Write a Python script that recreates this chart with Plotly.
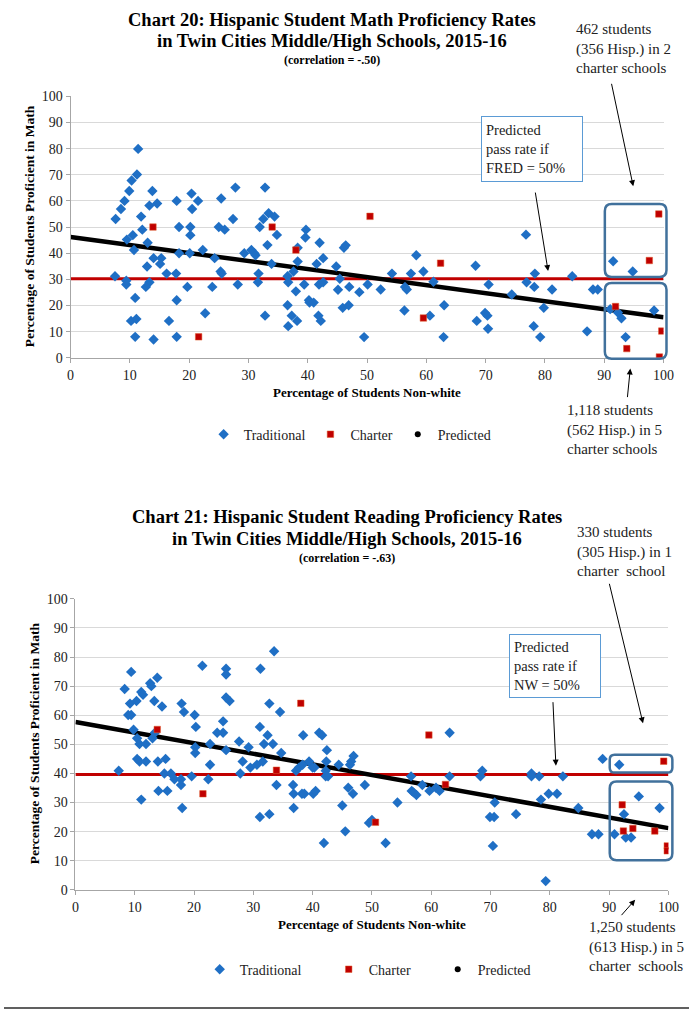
import plotly.graph_objects as go

# ---------------- Data: Chart 20 (Math) ----------------
math_trad_x = [7.6, 8.5, 9.1, 9.9, 10.3, 11.2, 11.4, 11.9, 12.1, 10.5, 9.5, 10.7, 7.5, 9.4, 9.4, 10.9, 10.2, 11.1, 10.9,
               13.3, 13.8, 14.6, 13.0, 14.0, 15.3, 15.1, 12.9, 13.3, 12.7, 14.0,
               16.2, 16.6, 17.9, 18.3, 17.8, 17.9, 17.9, 18.3, 19.7, 20.4, 20.5, 20.2, 20.2, 21.5, 20.1, 22.3, 22.7,
               23.9, 24.3, 25.0, 25.4, 26.0, 25.3, 25.5, 27.4, 27.8, 28.2, 29.3, 30.5, 31.0, 31.2, 31.7, 31.6, 31.9,
               32.5, 32.8, 32.8, 33.2, 33.4, 34.4, 34.8, 33.9, 36.6, 36.7, 36.6, 37.3, 36.7, 38.2, 38.0, 37.6, 38.3,
               38.3, 39.4, 39.7, 39.6, 40.2, 40.3, 41.0, 41.8, 42.2, 41.5, 42.0, 42.6, 41.9, 42.6, 44.8, 45.1, 45.4,
               45.9, 46.9, 47.0, 46.1, 46.4,
               48.7, 50.1, 49.5, 52.3, 54.2, 56.4, 56.7, 56.3, 57.4, 58.3, 59.5, 61.2, 60.6, 63.0, 62.9, 68.3, 70.5,
               68.5, 69.9, 70.3, 70.4, 74.4, 76.8, 76.9, 78.2, 78.3, 78.1, 79.2, 81.2, 79.8, 84.6, 87.1, 88.1, 88.9,
               91.5, 94.8, 91.0, 92.3, 92.9, 93.6, 98.4]
math_trad_y = [53.1, 56.9, 60.0, 63.8, 67.8, 70.1, 79.9, 54.0, 49.0, 46.9, 45.2, 41.2, 31.2, 28.0, 29.5, 22.9, 14.1, 14.8, 8.0,
               58.2, 63.8, 59.0, 44.0, 38.1, 38.1, 35.9, 34.9, 28.9, 27.1, 7.0,
               32.2, 14.1, 60.0, 50.0, 32.2, 22.0, 8.0, 40.0, 27.1, 62.8, 56.9, 50.0, 46.9, 60.0, 40.0, 41.2, 17.0,
               27.1, 38.1, 50.0, 60.9, 49.0, 33.0, 32.2, 53.1, 65.1, 28.0, 40.0, 41.2, 40.0, 39.2, 32.2, 28.9, 50.0,
               53.1, 65.1, 16.1, 43.1, 55.3, 54.0, 47.0, 35.9, 31.2, 28.9, 20.1, 16.1, 12.1, 14.1, 25.4, 33.0, 36.8,
               42.1, 28.0, 49.0, 46.0, 22.0, 21.1, 21.1, 16.1, 14.1, 35.9, 44.0, 38.1, 28.0, 28.9, 34.9, 26.0, 30.2,
               19.1, 20.1, 27.1, 42.1, 43.0,
               25.1, 28.0, 7.9, 26.1, 32.2, 27.1, 26.1, 18.1, 32.2, 39.2, 33.0, 29.1, 16.1, 20.1, 7.9, 35.2, 28.0,
               14.1, 17.1, 16.1, 11.1, 24.2, 47.1, 28.9, 27.1, 32.2, 12.1, 7.9, 26.1, 19.1, 31.2, 10.1, 26.1, 26.1,
               36.9, 33.0, 18.6, 17.3, 15.1, 7.9, 18.1]
math_charter_x = [13.9, 21.6, 34.0, 38.0, 50.5, 59.5, 62.4, 91.9, 93.8, 97.6, 99.2, 99.3, 99.7]
math_charter_y = [50.0, 8.0, 50.0, 41.2, 54.1, 15.2, 36.2, 19.6, 3.5, 37.2, 55.0, 0.3, 10.2]
math_pred_x = [0, 100]
math_pred_y = [46.2, 15.5]
math_pass_x = [0, 100]
math_pass_y = [30.2, 30.2]

# ---------------- Data: Chart 21 (Reading) ----------------
read_trad_x = [7.3, 8.3, 9.4, 9.2, 8.9, 9.4, 9.8, 10.3, 10.4, 11.1, 11.4, 10.8, 11.9, 10.4, 10.8, 11.9, 11.1, 12.6, 12.8,
               13.3, 13.8, 14.6, 13.0, 13.4, 13.9, 14.0, 15.2, 15.0, 16.1, 15.5, 16.7, 17.8, 17.8, 18.0, 17.9, 18.3,
               19.6, 20.1, 20.3, 20.2, 20.2, 21.4, 22.4, 22.7, 22.7, 23.9, 24.9, 24.9, 25.4, 25.4, 25.4, 26.0, 25.4,
               27.6, 27.8, 28.2, 29.2, 29.5, 30.6, 31.1, 31.2, 31.1, 31.6, 31.8, 32.4, 32.7, 32.7, 33.3, 33.5, 33.9,
               34.5, 34.7, 36.7, 36.8, 36.8, 37.2, 37.7, 38.2, 38.6, 38.4, 38.3, 39.4, 40.0, 40.3, 40.1, 40.5, 41.1,
               41.6, 41.9, 42.4, 42.3, 42.2, 42.2, 42.6, 44.4, 45.0, 45.5, 46.0, 46.8, 46.9, 46.5, 46.3,
               48.8, 49.5, 50.0, 52.3, 54.3, 56.6, 56.7, 57.0, 57.5, 58.5, 59.7, 60.8, 61.4, 63.1, 63.1, 68.3, 68.6,
               69.9, 70.6, 70.7, 70.4, 74.3, 76.9, 76.9, 78.2, 78.5, 79.8, 81.2, 82.2, 84.8, 87.1, 88.2, 88.9, 90.9,
               91.7, 92.5, 92.8, 93.7, 95.0, 98.5, 79.3]
read_trad_y = [40.9, 69.0, 74.9, 64.0, 60.1, 60.1, 55.0, 64.9, 52.1, 68.0, 67.0, 50.1, 50.1, 45.0, 44.1, 44.1, 31.0, 71.0, 70.0,
               64.9, 72.9, 63.0, 52.1, 54.0, 44.1, 34.0, 45.0, 40.0, 40.0, 34.0, 38.0, 38.0, 36.0, 28.1, 64.0, 61.1,
               39.0, 60.1, 56.0, 49.0, 47.0, 77.0, 38.0, 43.0, 50.1, 54.0, 54.0, 57.9, 76.0, 74.0, 66.1, 64.9, 48.0,
               51.0, 40.0, 44.1, 49.0, 42.0, 43.0, 56.0, 76.0, 25.0, 44.1, 50.1, 53.1, 64.0, 26.0, 50.1, 82.0, 36.0,
               61.1, 47.0, 36.0, 33.0, 28.1, 40.9, 42.0, 33.0, 33.0, 53.1, 43.0, 44.1, 42.0, 42.0, 33.0, 34.0, 54.0,
               53.1, 16.1, 48.0, 44.1, 40.9, 39.0, 39.0, 43.0, 29.0, 20.1, 35.1, 33.0, 46.0, 44.1, 43.0,
               36.0, 23.0, 24.0, 16.1, 30.0, 39.0, 34.0, 33.5, 32.6, 36.0, 34.0, 35.1, 34.0, 54.0, 39.0, 39.0, 40.9,
               25.0, 25.0, 30.0, 15.1, 26.0, 40.0, 39.0, 39.0, 31.0, 33.0, 33.0, 39.0, 28.1, 19.1, 19.1, 45.0, 19.1,
               43.0, 26.0, 18.0, 18.0, 32.1, 28.1, 3.0]
read_charter_x = [13.8, 21.5, 33.9, 38.0, 50.6, 59.6, 62.4, 92.2, 92.4, 94.0, 97.7, 99.2, 99.8, 99.8]
read_charter_y = [55.1, 33.0, 41.1, 64.1, 23.2, 53.2, 36.2, 29.2, 20.2, 21.1, 20.2, 44.2, 15.1, 13.4]
read_pred_x = [0, 100]
read_pred_y = [57.7, 21.2]
read_pass_x = [0, 100]
read_pass_y = [39.6, 39.6]

tick_vals = list(range(0, 101, 10))

# ---------------- Styling ----------------
W, H = 700, 1019
SERIF = "Liberation Serif, Times New Roman, serif"
BLUE = "#1F6FC5"
RED = "#C00000"
BOX = "#41719C"
TXT = "#222222"


def px(x):
    return x / W


def py(y):
    return 1 - y / H


fig = go.Figure()


def add_chart(xa, ya, legend, tx, ty, cx, cy, predx, predy, passx, passy, lw=(None, None)):
    fig.add_trace(go.Scatter(x=passx, y=passy, mode="lines", line=dict(color=RED, width=3),
                             xaxis=xa, yaxis=ya, showlegend=False, hoverinfo="skip"))
    fig.add_trace(go.Scatter(x=predx, y=predy, mode="lines", line=dict(color="black", width=4.5),
                             xaxis=xa, yaxis=ya, showlegend=False, hoverinfo="skip"))
    fig.add_trace(go.Scatter(x=tx, y=ty, mode="markers", name="Traditional",
                             marker=dict(symbol="diamond", size=8, color=BLUE),
                             xaxis=xa, yaxis=ya, legend=legend, legendwidth=lw[0]))
    fig.add_trace(go.Scatter(x=cx, y=cy, mode="markers", name="Charter",
                             marker=dict(symbol="square", size=6.5, color=RED,
                                         line=dict(color="#E06030", width=0.5)),
                             xaxis=xa, yaxis=ya, legend=legend, legendwidth=lw[1]))
    fig.add_trace(go.Scatter(x=[None], y=[None], mode="markers", name="Predicted",
                             marker=dict(symbol="circle", size=6, color="black"),
                             xaxis=xa, yaxis=ya, legend=legend))


add_chart("x", "y", "legend", math_trad_x, math_trad_y, math_charter_x, math_charter_y,
          math_pred_x, math_pred_y, math_pass_x, math_pass_y)
add_chart("x2", "y2", "legend2", read_trad_x, read_trad_y, read_charter_x, read_charter_y,
          read_pred_x, read_pred_y, read_pass_x, read_pass_y, lw=(84, 64))

axis_common = dict(range=[0, 100], tickvals=tick_vals, showline=True, linecolor="#A6A6A6", linewidth=1,
                   ticks="outside", ticklen=4, tickcolor="#A6A6A6", zeroline=False,
                   tickfont=dict(family=SERIF, size=14, color=TXT), fixedrange=True)

# plot areas in pixels
P1 = dict(l=68, r=674, t=90.7, b=356)
P2 = dict(l=73, r=679, t=600.7, b=896)

fig.update_layout(
    width=W, height=H, margin=dict(l=0, r=0, t=0, b=0),
    paper_bgcolor="white", plot_bgcolor="white",
    xaxis=dict(domain=[px(P1["l"]), px(P1["r"])], anchor="y", showgrid=False, **axis_common),
    yaxis=dict(domain=[py(P1["b"]), py(P1["t"])], anchor="x", showgrid=True, gridcolor="#D9D9D9",
               gridwidth=1, **axis_common),
    xaxis2=dict(domain=[px(P2["l"]), px(P2["r"])], anchor="y2", showgrid=False, **axis_common),
    yaxis2=dict(domain=[py(P2["b"]), py(P2["t"])], anchor="x2", showgrid=True, gridcolor="#D9D9D9",
                gridwidth=1, **axis_common),
    legend=dict(orientation="h", x=px(204), y=py(434), xanchor="left", yanchor="middle",
                font=dict(family=SERIF, size=14, color=TXT), bgcolor="rgba(0,0,0,0)"),
    legend2=dict(orientation="h", x=px(200), y=py(977), xanchor="left", yanchor="middle",
                 font=dict(family=SERIF, size=14, color=TXT), bgcolor="rgba(0,0,0,0)"),
)

ann = []


def text(t, x, y, size, bold=False, anchor="center", align="center", color=TXT, **kw):
    if bold:
        t = "<b>" + t.replace("<br>", "</b><br><b>") + "</b>"
    ann.append(dict(text=t, x=px(x), y=py(y), xref="paper", yref="paper", showarrow=False,
                    xanchor=anchor, yanchor="middle", align=align,
                    font=dict(family=SERIF, size=size, color=color), **kw))


def arrow(x0, y0, x1, y1, head=2):
    # tail (x0,y0) -> head (x1,y1) in pixels
    ann.append(dict(text="", x=px(x1), y=py(y1), xref="paper", yref="paper", showarrow=True,
                    ax=x0 - x1, ay=y0 - y1, axref="pixel", ayref="pixel",
                    arrowhead=head, arrowsize=1.2, arrowwidth=1, arrowcolor="black", standoff=0))


# Chart 20 titles
text("Chart 20: Hispanic Student Math Proficiency Rates", 335, 13, 18.5, bold=True, color="black")
text("in Twin Cities Middle/High Schools, 2015-16", 335, 35, 18.5, bold=True, color="black")
text("(correlation = -.50)", 335, 54, 12, bold=True, color="black")
# Chart 21 titles
text("Chart 21: Hispanic Student Reading Proficiency Rates", 351, 518, 18.5, bold=True, color="black")
text("in Twin Cities Middle/High Schools, 2015-16", 351, 540, 18.5, bold=True, color="black")
text("(correlation = -.63)", 351, 559, 12, bold=True, color="black")

# axis titles
text("Percentage of Students Non-white", 371, 391, 13, bold=True, color="black")
text("Percentage of Students Non-white", 376, 931, 13, bold=True, color="black")
ann.append(dict(text="<b>Percentage of Students Proficient in Math</b>", x=px(26), y=py(222), xref="paper",
                yref="paper", showarrow=False, textangle=-90, xanchor="center", yanchor="middle",
                font=dict(family=SERIF, size=13.5, color="black")))
ann.append(dict(text="<b>Percentage of Students Proficient in Math</b>", x=px(31), y=py(747), xref="paper",
                yref="paper", showarrow=False, textangle=-90, xanchor="center", yanchor="middle",
                font=dict(family=SERIF, size=13.5, color="black")))

# side notes
text("462 students<br>(356 Hisp.) in 2<br>charter schools", 582, 42, 15, anchor="left", align="left")
text("1,118 students<br>(562 Hisp.) in 5<br>charter schools", 573, 429, 15, anchor="left", align="left")
text("330 students<br>(305 Hisp.) in 1<br>charter  school", 584, 553, 15, anchor="left", align="left")
text("1,250 students<br>(613 Hisp.) in 5<br>charter  schools", 596, 954, 15, anchor="left", align="left")

# predicted-rate call-out boxes
ann.append(dict(text="Predicted<br>pass rate if<br>FRED = 50%", x=px(487), y=py(111), xref="paper", yref="paper",
                showarrow=False, xanchor="left", yanchor="top", align="left", width=92, height=56,
                bordercolor="#5B9BD5", borderwidth=1, borderpad=4, bgcolor="white",
                font=dict(family=SERIF, size=14.5, color=TXT)))
ann.append(dict(text="Predicted<br>pass rate if<br>NW = 50%", x=px(516), y=py(636), xref="paper", yref="paper",
                showarrow=False, xanchor="left", yanchor="top", align="left", width=82, height=54,
                bordercolor="#5B9BD5", borderwidth=1, borderpad=4, bgcolor="white",
                font=dict(family=SERIF, size=14.5, color=TXT)))

# arrows
arrow(621, 78, 643, 182)
arrow(543, 188, 556, 268)
arrow(637, 397, 640, 367)
arrow(619, 586, 653, 727)
arrow(561, 705, 564, 770)
arrow(630, 923, 645, 906)

fig.update_layout(annotations=ann)


def rrect(x0, y0, x1, y1, r=7):
    # rounded rectangle in pixel coords -> paper path
    X0, X1 = px(x0), px(x1)
    Y0, Y1 = py(y0), py(y1)  # Y0 top (higher), Y1 bottom
    rx, ry = r / W, r / H
    p = (f"M {X0 + rx},{Y0} L {X1 - rx},{Y0} Q {X1},{Y0} {X1},{Y0 - ry} "
         f"L {X1},{Y1 + ry} Q {X1},{Y1} {X1 - rx},{Y1} "
         f"L {X0 + rx},{Y1} Q {X0},{Y1} {X0},{Y1 + ry} "
         f"L {X0},{Y0 - ry} Q {X0},{Y0} {X0 + rx},{Y0} Z")
    return dict(type="path", path=p, xref="paper", yref="paper",
                line=dict(color=BOX, width=2.5), fillcolor="rgba(0,0,0,0)", layer="above")


shapes = [
    rrect(614, 200, 677, 274),
    rrect(614, 280, 677, 357),
    rrect(619, 759, 683, 777, r=5),
    rrect(619, 786, 683, 866),
    dict(type="line", xref="paper", yref="paper", x0=0, x1=1, y0=py(1016), y1=py(1016),
         line=dict(color="#606060", width=2)),
]
fig.update_layout(shapes=shapes)

fig.write_html("out.html")
